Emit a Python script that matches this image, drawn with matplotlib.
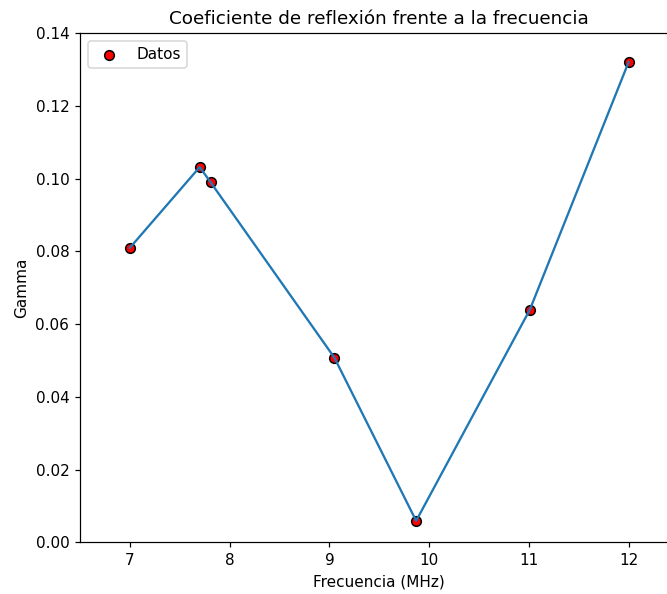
import matplotlib
matplotlib.use('Agg')
import matplotlib.pyplot as plt

# frecuencia (MHz) y coeficiente de reflexion
frecuencia = [7.0, 7.7, 7.81, 9.05, 9.87, 11.01, 12.0]
gamma = [0.081, 0.1032, 0.099, 0.0508, 0.0059, 0.064, 0.1321]

DPI = 110
fig = plt.figure(figsize=(667/DPI, 594/DPI), dpi=DPI)
# axes run a bit past the right edge, like the cropped original
ax = fig.add_axes((80/667, 51.7/594, 598.5/667, 509/594))

ax.scatter(frecuencia, gamma, color='red', edgecolors='black', s=40, label='Datos')
ax.plot(frecuencia, gamma)

ax.set_xlim(6.5, 12.5)
ax.set_ylim(0, 0.14)
ax.set_xlabel('Frecuencia (MHz)')
ax.set_ylabel('Gamma')
ax.set_title('Coeficiente de reflexión frente a la frecuencia')
ax.legend(loc='upper left')

fig.savefig('out.png', dpi=DPI)
